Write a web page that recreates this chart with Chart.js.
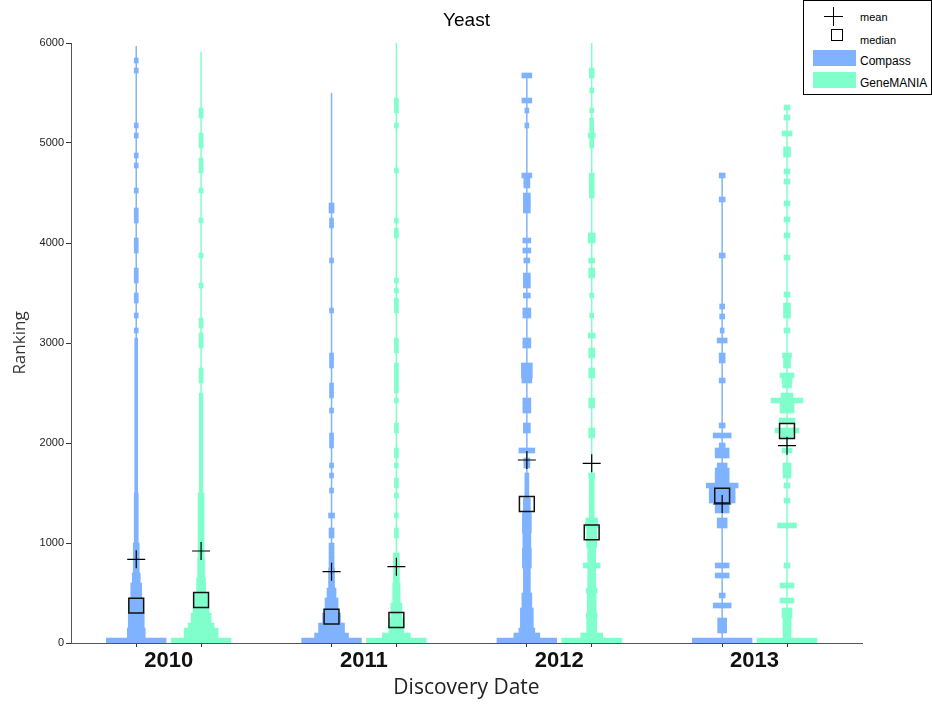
<!DOCTYPE html>
<html>
<head>
<meta charset="utf-8">
<title>Yeast</title>
<script src="https://cdn.jsdelivr.net/npm/chart.js@4.4.0/dist/chart.umd.min.js"></script>
<style>
  html, body { margin: 0; padding: 0; background: #fff; }
  #wrap { position: relative; width: 932px; height: 704px; }
  #legend { position: absolute; left: 803px; top: 0; width: 127px; height: 93px;
            border: 1px solid #000; background: #fff; font-family: "Liberation Sans", Arial, sans-serif; color: #000; }
  #legend .txt { position: absolute; left: 56px; white-space: nowrap; }
  #legend .swatch { position: absolute; left: 9px; width: 43px; height: 16px; }
  #legend .plusH { position: absolute; left: 20px; top: 15px; width: 19px; height: 1px; background: #000; }
  #legend .plusV { position: absolute; left: 29px; top: 6px; width: 1px; height: 19px; background: #000; }
  #legend .sq { position: absolute; left: 27px; top: 28px; width: 10px; height: 10px; border: 1px solid #000; }
</style>
</head>
<body>
<div id="wrap">
  <canvas id="yeastChart" width="932" height="704"></canvas>
  <div id="legend"></div>
</div>
<script>
// discovery years on the x axis
const years = ['2010', '2011', '2012', '2013'];
const yearPos = [2010, 2011, 2012, 2013];

// summary statistics per year
const compassMean = [837, 713, 1830, 1390];
const compassMedian = [373, 263, 1390, 1473];
const geneMean = [920, 763, 1797, 1973];
const geneMedian = [430, 230, 1107, 2120];

// highest ranking reached per year
const compassMax = [5970, 5500, 5700, 4700];
const geneMax = [5913, 6000, 6000, 5380];

// histogram runs: [from rank, to rank, count per 50-rank bin]
const compassRuns2010 = [[0,50,30],[50,150,9],[150,300,8],[300,450,7],[450,600,5.5],[600,700,4],[700,1000,3],
  [1000,1500,2],[1500,3050,1.5],[3100,3150,2],[3250,3300,2],[3400,3500,2],[3600,3750,2],[3900,4050,2],
  [4200,4350,2],[4500,4550,2],[4750,4800,2],[4850,4900,2],[5050,5100,2],[5150,5200,2],[5700,5750,2],[5800,5850,2]];
const geneRuns2010 = [[0,50,30],[50,150,17],[150,200,13],[200,300,10],[300,350,8],[350,500,6.5],[500,650,4.5],
  [650,850,3.5],[850,1500,3],[1500,2500,1.8],[2600,2750,2],[2950,3100,2],[3150,3250,2],[3550,3600,2],[3850,3900,2],
  [4200,4250,2],[4500,4550,2],[4700,4850,2],[4950,5100,2],[5250,5350,2]];
const compassRuns2011 = [[0,50,30],[50,100,17],[100,200,13],[200,300,9],[300,450,6.5],[450,550,4.5],[550,750,3],
  [750,1000,2.5],[1050,1150,2.5],[1250,1300,3],[1500,1550,2],[1650,1700,2],[1750,1800,2],[1950,2100,2],
  [2300,2350,2],[2450,2600,2],[2750,2900,2],[3300,3350,2],[3800,3850,2],[4150,4250,2],[4300,4400,2.5]];
const geneRuns2011 = [[0,50,30],[50,100,14],[100,250,7.5],[250,400,5.5],[400,600,3.7],[600,900,3],[1050,1150,2],
  [1250,1300,2],[1450,1500,2],[1550,1650,2],[1750,1800,2],[1850,1950,2],[2100,2200,2],[2400,2450,2],[2500,2800,2],
  [2900,3050,2],[3300,3450,2],[3500,3550,2],[3600,3650,2],[4050,4150,2],[4200,4250,2],[4700,4750,2],[5150,5200,2],
  [5300,5450,2]];
const compassRuns2012 = [[0,50,30],[50,100,13],[100,150,8],[150,350,6.5],[350,500,5],[500,750,3.5],[750,950,4.5],
  [950,1100,4],[1100,1300,4.5],[1300,1450,3.5],[1450,1700,2],[1750,1850,3],[1900,1950,8],[2100,2200,3.5],
  [2300,2450,4],[2600,2650,5],[2650,2800,5.5],[2950,3050,4],[3250,3350,4],[3450,3500,3.5],[3550,3700,3.5],
  [3800,3850,3],[3900,3950,4],[4000,4050,4],[4300,4500,3.5],[4550,4650,3],[4650,4700,5],[5150,5200,2],
  [5300,5350,2],[5400,5450,5],[5650,5700,5]];
const geneRuns2012 = [[0,50,30],[50,100,11],[100,250,5],[250,300,5.5],[300,500,4.5],[500,550,5.5],[550,750,4],
  [750,800,8.5],[800,950,4],[950,1150,5],[1150,1250,6],[1250,1650,2.5],[1650,1700,3],[2050,2150,3],[2350,2450,3],
  [2650,2750,3],[2850,2950,3],[3050,3100,3.5],[3250,3300,2],[3450,3500,2],[3650,3750,3],[3800,3850,3],
  [4000,4100,3.5],[4450,4700,2.5],[4950,5050,2],[5050,5100,3.5],[5100,5250,2],[5300,5350,2],[5500,5550,2],
  [5650,5750,2.5]];
const compassRuns2013 = [[0,50,30],[100,250,4.5],[350,400,9],[450,500,3],[650,700,7],[750,800,7],[1150,1250,5],
  [1300,1400,7],[1400,1550,13],[1550,1600,16],[1600,1750,7],[1750,1800,5],[1850,1950,7],[1950,2000,3],
  [2050,2100,9],[2150,2200,3],[2600,2650,3],[2800,2900,3],[3000,3050,5],[3100,3150,2],[3240,3290,2.5],
  [3340,3390,2.5],[3850,3900,3],[4410,4460,3],[4650,4700,3]];
const geneRuns2013 = [[0,50,30],[50,250,4],[250,350,5],[400,450,7],[550,600,7],[750,800,3],[1150,1200,9.5],
  [1400,1450,3],[1550,1600,3],[1650,1800,4],[1900,1950,5],[2050,2100,6],[2100,2150,12],[2200,2250,8],
  [2300,2400,7],[2400,2450,16],[2450,2500,6],[2550,2600,4.5],[2600,2650,5],[2650,2700,7],[2750,2850,3.5],
  [2850,2900,4.5],[3100,3150,3],[3250,3400,3.5],[3460,3510,3],[3830,3880,3],[4050,4100,3],[4210,4260,3],
  [4370,4420,3],[4590,4640,3],[4690,4740,3],[4860,4960,3.5],[5070,5120,5],[5230,5280,3],[5330,5380,3]];

const compassRuns = [compassRuns2010, compassRuns2011, compassRuns2012, compassRuns2013];
const geneRuns = [geneRuns2010, geneRuns2011, geneRuns2012, geneRuns2013];

const COMPASS = '#80b3ff';
const GENE = '#80ffcc';
const BIN = 50;
const SIDE = 0.166;          // offset of each method from the year centre
const COUNT_W = 1 / 196;     // half-width per count, in x units

function binsFrom(runsByYear, shift) {
  const out = [];
  runsByYear.forEach((runs, i) => {
    const c = yearPos[i] + shift;
    runs.forEach(([lo, hi, n]) => {
      for (let r = lo; r < hi; r += BIN) {
        out.push({ y: r + BIN / 2, x: [c - n * COUNT_W, c + n * COUNT_W] });
      }
    });
  });
  return out;
}

function rangeLines(maxes, shift) {
  const out = [];
  maxes.forEach((m, i) => {
    const c = yearPos[i] + shift;
    out.push({ x: c, y: 0 }, { x: c, y: m }, { x: c, y: null });
  });
  return out;
}

const points = (vals, shift) => vals.map((v, i) => ({ x: yearPos[i] + shift, y: v }));

const xTicks = [];
yearPos.forEach(p => xTicks.push(p - SIDE, p, p + SIDE));

new Chart(document.getElementById('yeastChart'), {
  type: 'bar',
  data: {
    datasets: [
      { type: 'scatter', label: 'mean', data: points(compassMean, -SIDE).concat(points(geneMean, SIDE)),
        pointStyle: 'cross', pointRadius: 9, pointBorderColor: '#000', pointBorderWidth: 1.2, order: 0 },
      { type: 'scatter', label: 'median', data: points(compassMedian, -SIDE).concat(points(geneMedian, SIDE)),
        pointStyle: 'rect', pointRadius: 10.5, pointBackgroundColor: 'rgba(0,0,0,0)',
        pointBorderColor: '#111', pointBorderWidth: 1.5, order: 0 },
      { label: 'Compass', data: binsFrom(compassRuns, -SIDE), indexAxis: 'y', grouped: false,
        barThickness: 5, backgroundColor: COMPASS, borderWidth: 0, order: 1 },
      { label: 'GeneMANIA', data: binsFrom(geneRuns, SIDE), indexAxis: 'y', grouped: false,
        barThickness: 5, backgroundColor: GENE, borderWidth: 0, order: 1 },
      { type: 'line', label: 'Compass range', data: rangeLines(compassMax, -SIDE), borderColor: COMPASS,
        borderWidth: 1.5, pointRadius: 0, spanGaps: false, order: 2 },
      { type: 'line', label: 'GeneMANIA range', data: rangeLines(geneMax, SIDE), borderColor: GENE,
        borderWidth: 1.5, pointRadius: 0, spanGaps: false, order: 2 }
    ]
  },
  options: {
    responsive: false,
    animation: false,
    devicePixelRatio: 1,
    layout: { padding: { left: 0, right: 70, top: 0, bottom: 0 } },
    plugins: {
      legend: { display: false },
      tooltip: { enabled: false },
      title: {
        display: true, text: 'Yeast', fullSize: false, color: '#000',
        font: { family: 'Liberation Sans', size: 19, weight: 'normal', lineHeight: '23px' },
        padding: { top: 9, bottom: 11 }
      }
    },
    scales: {
      x: {
        type: 'linear', min: 2009.5, max: 2013.55, offset: false,
        afterBuildTicks: s => { s.ticks = xTicks.map(v => ({ value: v })); },
        afterFit: s => { s.height = 61; },
        border: { color: '#555', width: 1 },
        grid: { drawOnChartArea: false, offset: false, tickLength: 4,
                tickColor: ctx => (ctx.tick && yearPos.includes(ctx.tick.value)) ? 'rgba(0,0,0,0)' : '#333' },
        ticks: {
          autoSkip: false, maxRotation: 0, padding: 1, color: '#111',
          font: { family: 'Liberation Sans', size: 22, weight: 'bold' },
          callback: v => { const i = yearPos.indexOf(v); return i >= 0 ? years[i] : ''; }
        },
        title: { display: true, text: 'Discovery Date', color: '#222',
                 font: { family: 'Open Sans', size: 21 }, padding: { top: 0, bottom: 3 } }
      },
      y: {
        type: 'linear', min: 0, max: 6000, offset: false,
        afterFit: s => { s.width = 71; },
        border: { color: '#555', width: 1 },
        grid: { drawOnChartArea: false, offset: false, tickLength: 5, color: '#333' },
        ticks: { stepSize: 1000, padding: 2, color: '#222', font: { family: 'Liberation Sans', size: 11 },
                 callback: v => String(v) },
        title: { display: true, text: 'Ranking', color: '#333',
                 font: { family: 'Open Sans', size: 17 }, padding: { top: 10, bottom: 0 } }
      }
    }
  }
});

// legend box in the top right corner
const legendItems = [
  { text: 'mean', size: 11, top: 10 },
  { text: 'median', size: 11, top: 33 },
  { text: 'Compass', size: 12, top: 53, color: COMPASS },
  { text: 'GeneMANIA', size: 12, top: 75, color: GENE }
];
const legend = document.getElementById('legend');
legend.innerHTML = '<div class="plusH"></div><div class="plusV"></div><div class="sq"></div>';
legendItems.forEach(it => {
  if (it.color) {
    const sw = document.createElement('div');
    sw.className = 'swatch';
    sw.style.top = (it.top - 4) + 'px';
    sw.style.background = it.color;
    legend.appendChild(sw);
  }
  const t = document.createElement('div');
  t.className = 'txt';
  t.style.top = it.top + 'px';
  t.style.fontSize = it.size + 'px';
  t.textContent = it.text;
  legend.appendChild(t);
});
</script>
</body>
</html>
